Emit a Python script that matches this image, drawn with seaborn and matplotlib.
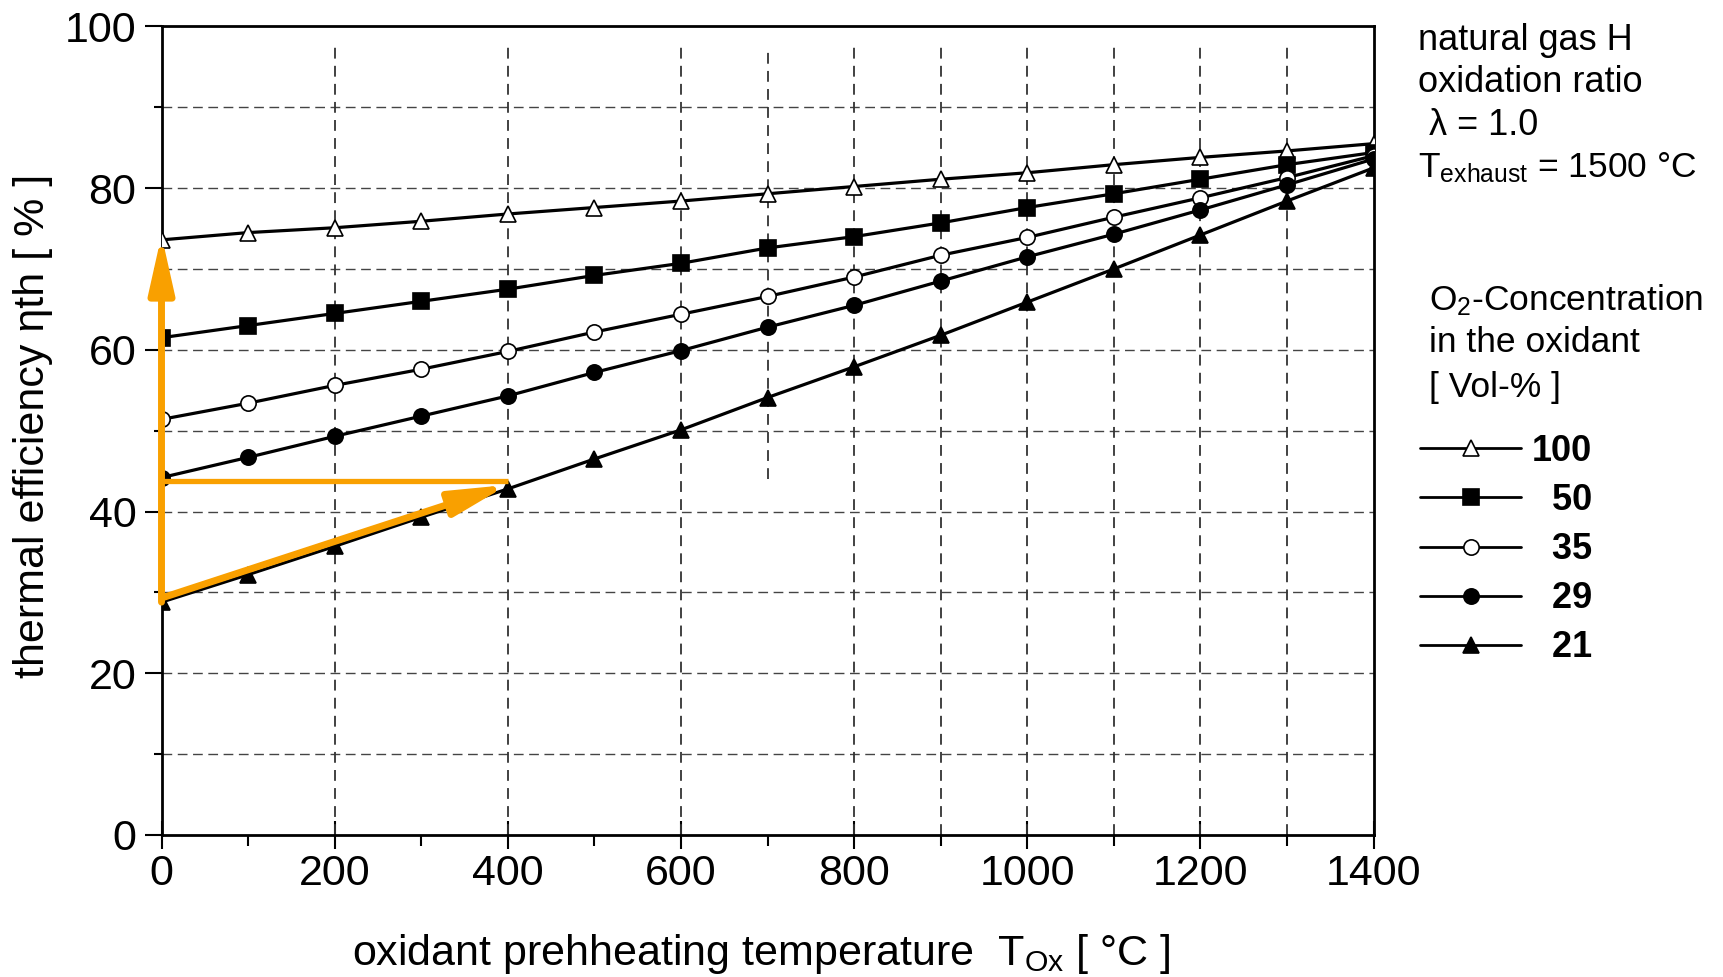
import matplotlib
matplotlib.use("Agg")
from matplotlib import pyplot as plt
from matplotlib.lines import Line2D
import numpy as np
import pandas as pd
import seaborn as sns

# oxidant preheating temperature [°C]
temp = [0, 100, 200, 300, 400, 500, 600, 700, 800, 900, 1000, 1100, 1200, 1300, 1400]

# thermal efficiency [%] for each O2 concentration in the oxidant
eff_100 = [73.6, 74.5, 75.1, 75.9, 76.8, 77.6, 78.4, 79.3, 80.2, 81.1, 81.9, 82.9, 83.8, 84.6, 85.5]
eff_50 = [61.5, 63.0, 64.5, 66.0, 67.5, 69.2, 70.7, 72.6, 74.0, 75.7, 77.6, 79.3, 81.1, 82.9, 84.4]
eff_35 = [51.4, 53.4, 55.6, 57.6, 59.8, 62.2, 64.4, 66.6, 69.0, 71.7, 73.9, 76.4, 78.8, 81.3, 84.0]
eff_29 = [44.2, 46.7, 49.3, 51.8, 54.3, 57.2, 59.9, 62.8, 65.5, 68.5, 71.5, 74.3, 77.3, 80.4, 83.6]
eff_21 = [28.8, 32.2, 35.7, 39.3, 42.8, 46.5, 50.1, 54.1, 57.9, 61.8, 65.9, 70.0, 74.2, 78.4, 82.5]

labels = ["100", "  50", "  35", "  29", "  21"]
series = [eff_100, eff_50, eff_35, eff_29, eff_21]
markers = ["^", "s", "o", "o", "^"]
faces = ["white", "black", "white", "black", "black"]

grid_x = [200, 400, 600, 800, 900, 1000, 1100, 1200, 1300]
grid_y = [10, 20, 30, 40, 50, 60, 70, 80, 90]

sns.set_style("ticks")
plt.rcParams["font.family"] = ["Liberation Sans", "DejaVu Sans"]
plt.rcParams["mathtext.fontset"] = "custom"
plt.rcParams["mathtext.rm"] = "Liberation Sans"
plt.rcParams["mathtext.it"] = "Liberation Sans"
for k in ["text.color", "axes.labelcolor", "xtick.color", "ytick.color", "axes.edgecolor"]:
    plt.rcParams[k] = "black"

fig = plt.figure(figsize=(17.23, 9.77), dpi=100)
ax = fig.add_axes([161.5 / 1723, 1 - 835 / 977, 1212 / 1723, 808.6 / 977])

# dashed grid
ax.hlines(grid_y, 0, 1400, colors="#444444", linestyles=(0, (7, 4)), linewidth=1.0, zorder=1)
ax.vlines(grid_x, 0, 97.5, colors="#333333", linestyles=(0, (6, 4)), linewidth=1.3, zorder=1)
ax.vlines([700], 44, 97.5, colors="#333333", linestyles=(0, (6, 4)), linewidth=1.3, zorder=1)

for ys, lab, m, fc in zip(series, labels, markers, faces):
    df = pd.DataFrame({"T": temp, "eta": ys})
    sns.lineplot(data=df, x="T", y="eta", ax=ax, color="black", linewidth=2.3,
                 marker=m, markersize=11, markerfacecolor=fc,
                 markeredgecolor="black", markeredgewidth=1.2, zorder=3)

# orange arrows
orange = "#F9A000"
astyle = "-|>,head_length=1.7,head_width=0.38"
ax.annotate("", xy=(0, 74.2), xytext=(0, 28.8),
            arrowprops=dict(arrowstyle=astyle, color=orange, lw=5, mutation_scale=20,
                            shrinkA=0, shrinkB=0), zorder=4, annotation_clip=False)
ax.annotate("", xy=(400, 43.3), xytext=(0, 29.3),
            arrowprops=dict(arrowstyle=astyle, color=orange, lw=5, mutation_scale=20,
                            shrinkA=0, shrinkB=0), zorder=4)
ax.plot([0, 400], [43.75, 43.75], color=orange, lw=3.8, zorder=4, solid_capstyle="butt")

ax.set_xlim(0, 1400)
ax.set_ylim(0, 100)
ax.set_xticks(range(0, 1401, 200))
ax.set_xticks(range(100, 1400, 200), minor=True)
ax.set_yticks(range(0, 101, 20))
ax.set_yticks(range(10, 100, 20), minor=True)
ax.tick_params(axis="x", which="major", direction="inout", length=20, width=1.5,
               labelsize=31, pad=4)
ax.tick_params(axis="x", which="minor", direction="out", length=8, width=1.5)
ax.tick_params(axis="y", which="major", direction="out", length=12, width=1.5,
               labelsize=31, pad=6)
ax.tick_params(axis="y", which="minor", direction="out", length=6, width=1.5)
for s in ax.spines.values():
    s.set_linewidth(2.0)
    s.set_visible(True)

ax.set_xlabel("oxidant prehheating temperature  T$_{\\mathrm{Ox}}$ [ °C ]", fontsize=31)
ax.xaxis.label.set_va("center")
ax.xaxis.set_label_coords(0.495, -0.147)
ax.set_ylabel("thermal efficiency ηth [ % ]", fontsize=31)
ax.yaxis.label.set_va("center")
ax.yaxis.set_label_coords(-0.106, 0.506)

# conditions text
fig.text(1418 / 1723, 1 - 49.5 / 977, "natural gas H", fontsize=26, va="baseline")
fig.text(1418 / 1723, 1 - 92 / 977, "oxidation ratio", fontsize=26, va="baseline")
fig.text(1429 / 1723, 1 - 135 / 977, "λ = 1.0", fontsize=26, va="baseline")
fig.text(1418 / 1723, 1 - 177 / 977, "T$_{\\mathrm{exhaust}}$ = 1500 °C", fontsize=25.5, va="baseline")

# legend heading
fig.text(1429 / 1723, 1 - 300 / 977, "O$_2$-Concentration", fontsize=25.5, va="center")
fig.text(1429 / 1723, 1 - 343 / 977, "in the oxidant", fontsize=25.5, va="center")
fig.text(1429 / 1723, 1 - 387 / 977, "[ Vol-% ]", fontsize=25.5, va="center")

handles = [Line2D([], [], color="black", lw=2.0, marker=m, markersize=11,
                  markerfacecolor=fc, markeredgecolor="black", markeredgewidth=1.2)
           for m, fc in zip(markers, faces)]
leg = fig.legend(handles, labels, loc="upper left",
                 bbox_to_anchor=(1420 / 1723, 1 - 434 / 977),
                 frameon=False, borderpad=0, borderaxespad=0, handlelength=2.8,
                 handletextpad=0.3, labelspacing=0.39,
                 prop={"size": 26, "weight": "bold"})

fig.savefig("out.png", dpi=100)
